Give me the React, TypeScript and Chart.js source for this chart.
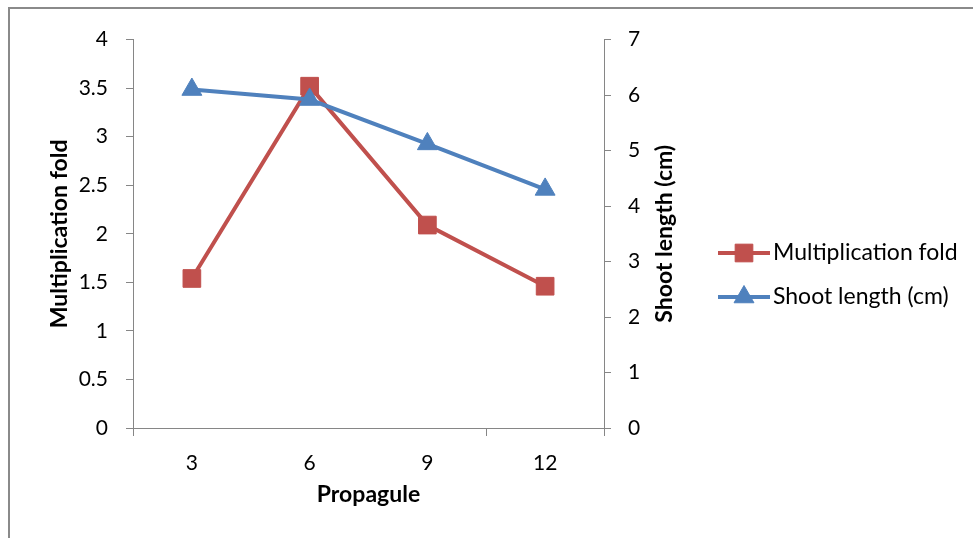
import React, { useEffect, useRef } from "react";
import { Chart, registerables } from "chart.js";
import { drawPoint } from "chart.js/helpers";

Chart.register(...registerables);

const categories = ["3", "6", "9", "12"];
const multiplicationFold = [1.54, 3.52, 2.09, 1.46];
const shootLength = [6.1, 5.92, 5.12, 4.3];
const seriesLabels = ["Multiplication fold", "Shoot length (cm)"];
const xTitle = "Propagule";
const yTitle = "Multiplication fold";
const y1Title = "Shoot length (cm)";

const RED = "#C0504D";
const BLUE = "#4F81BD";
const AXIS = "#868686";
const FONT = "Lato";
const TICK_SIZE = 21;
const TITLE_SIZE = 23;
const LEGEND_SIZE = 23;

const overlay = {
  id: "overlay",
  afterDraw(chart: any) {
    const ctx = chart.ctx;
    const area = chart.chartArea;
    const y1 = chart.scales.y1;
    ctx.save();
    ctx.fillStyle = "#000";
    ctx.font = `bold ${TITLE_SIZE}px ${FONT}`;
    ctx.textAlign = "center";
    ctx.textBaseline = "middle";
    ctx.translate(y1.left + 61, (area.top + area.bottom) / 2);
    ctx.rotate(-Math.PI / 2);
    ctx.fillText(y1Title, 0, 0);
    ctx.restore();

    const legendX = area.right + 114;
    const legendY = [244, 288];
    chart.data.datasets.forEach((ds: any, i: number) => {
      const y = legendY[i];
      ctx.save();
      ctx.strokeStyle = ds.borderColor;
      ctx.lineWidth = 4;
      ctx.beginPath();
      ctx.moveTo(legendX, y);
      ctx.lineTo(legendX + 52, y);
      ctx.stroke();
      ctx.fillStyle = ds.pointBackgroundColor;
      ctx.strokeStyle = ds.pointBorderColor;
      ctx.lineWidth = 1;
      drawPoint(ctx, { pointStyle: ds.pointStyle, radius: ds.pointRadius, rotation: 0, borderWidth: 1 }, legendX + 26, y);
      ctx.fillStyle = "#000";
      ctx.font = `${LEGEND_SIZE}px ${FONT}`;
      ctx.textAlign = "left";
      ctx.textBaseline = "middle";
      ctx.fillText(ds.label, legendX + 55, y);
      ctx.restore();
    });
  },
};

export default function App() {
  const ref = useRef<HTMLCanvasElement | null>(null);
  useEffect(() => {
    if (!ref.current) return;
    const chart = new Chart(ref.current, {
      type: "line",
      data: {
        labels: categories,
        datasets: [
          {
            label: seriesLabels[0],
            data: multiplicationFold,
            yAxisID: "y",
            borderColor: RED,
            backgroundColor: RED,
            pointBackgroundColor: RED,
            pointBorderColor: RED,
            pointStyle: "rect",
            pointRadius: 12.5,
            pointBorderWidth: 1,
            borderWidth: 4,
            tension: 0,
            order: 1,
          },
          {
            label: seriesLabels[1],
            data: shootLength,
            yAxisID: "y1",
            borderColor: BLUE,
            backgroundColor: BLUE,
            pointBackgroundColor: BLUE,
            pointBorderColor: BLUE,
            pointStyle: "triangle",
            pointRadius: 11.5,
            pointBorderWidth: 1,
            borderWidth: 4,
            tension: 0,
            order: 0,
          },
        ],
      },
      options: {
        animation: false,
        responsive: false,
        maintainAspectRatio: false,
        layout: { padding: { left: 0, top: 27, right: 269, bottom: 0 } },
        plugins: { legend: { display: false }, tooltip: { enabled: false } },
        scales: {
          x: {
            type: "category",
            offset: true,
            grid: {
              offset: true,
              drawOnChartArea: false,
              tickLength: 8,
              color: (c: any) => (c.index === 1 || c.index === 2 ? "rgba(0,0,0,0)" : AXIS),
            },
            border: { display: true, color: AXIS, width: 1 },
            ticks: { color: "#000", font: { family: FONT, size: TICK_SIZE }, padding: 15 },
            title: {
              display: true,
              text: xTitle,
              color: "#000",
              font: { family: FONT, size: TITLE_SIZE, weight: "bold" },
              padding: { top: 30, bottom: 30 },
            },
            afterFit: (s: any) => { s.height = 110; },
          },
          y: {
            position: "left",
            min: 0,
            max: 4,
            grid: { drawOnChartArea: false, tickLength: 7, color: AXIS },
            border: { display: true, color: AXIS, width: 1 },
            ticks: {
              stepSize: 0.5,
              color: "#000",
              font: { family: FONT, size: TICK_SIZE },
              padding: 18,
              callback: (v: any) => String(v),
            },
            title: {
              display: true,
              text: yTitle,
              color: "#000",
              font: { family: FONT, size: TITLE_SIZE, weight: "bold" },
              padding: { top: 36, bottom: 36 },
            },
            afterFit: (s: any) => { s.width = 123; },
          },
          y1: {
            position: "right",
            min: 0,
            max: 7,
            grid: { drawOnChartArea: false, tickLength: 7, color: AXIS },
            border: { display: true, color: AXIS, width: 1 },
            ticks: {
              stepSize: 1,
              color: "#000",
              font: { family: FONT, size: TICK_SIZE },
              padding: 17,
              callback: (v: any) => String(v),
            },
            title: { display: false },
            afterFit: (s: any) => { s.width = 100; },
          },
        },
      },
      plugins: [overlay],
    } as any);
    return () => chart.destroy();
  }, []);

  return (
    <div
      style={{
        position: "fixed",
        left: 8,
        top: 7,
        width: 965,
        height: 531,
        borderTop: "2px solid #8a8a8a",
        borderLeft: "2px solid #8a8a8a",
        boxSizing: "border-box",
        background: "#fff",
      }}
    >
      <canvas ref={ref} width={963} height={529} style={{ display: "block", width: 963, height: 529 }} />
    </div>
  );
}
